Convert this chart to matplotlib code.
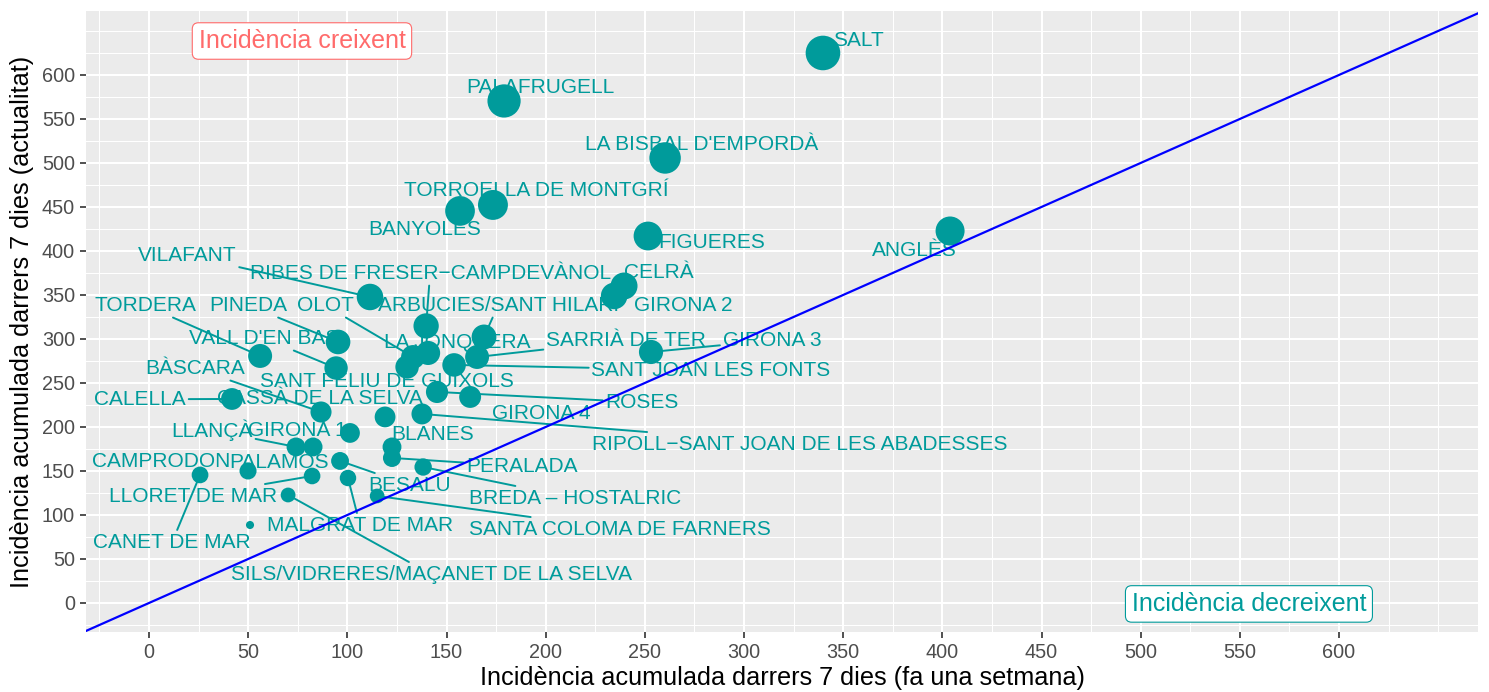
import matplotlib
matplotlib.use("Agg")
import matplotlib.pyplot as plt
import numpy as np

plt.rcParams['font.family'] = ['Liberation Sans', 'DejaVu Sans']

# Dades: incidència acumulada 7 dies (fa una setmana / actualitat)
municipis = [
    "SALT", "PALAFRUGELL", "LA BISBAL D'EMPORDÀ", "TORROELLA DE MONTGRÍ", "BANYOLES",
    "FIGUERES", "ANGLÈS", "VILAFANT", "RIBES DE FRESER−CAMPDEVÀNOL", "CELRÀ",
    "GIRONA 2", "TORDERA", "PINEDA", "OLOT", "ARBUCIES/SANT HILARI",
    "LA JONQUERA", "SARRIÀ DE TER", "GIRONA 3", "VALL D'EN BAS", "BÀSCARA",
    "SANT FELIU DE GUIXOLS", "SANT JOAN LES FONTS", "CALELLA", "CASSÀ DE LA SELVA", "ROSES",
    "GIRONA 4", "RIPOLL−SANT JOAN DE LES ABADESSES", "LLANÇÀ", "GIRONA 1", "BLANES",
    "PALAMOS", "CAMPRODON", "CANET DE MAR", "PERALADA", "BREDA – HOSTALRIC",
    "BESALU", "LLORET DE MAR", "MALGRAT DE MAR", "SANTA COLOMA DE FARNERS",
    "SILS/VIDRERES/MAÇANET DE LA SELVA", "",
]
ia_setmana = [
    339.8, 179.0, 260.2, 173.4, 156.8,
    251.6, 403.9, 111.4, 139.7, 239.5,
    234.5, 56.0, 95.3, 133.1, 168.9,
    140.7, 165.4, 253.1, 94.3, 86.7,
    130.1, 153.8, 41.8, 119.0, 145.2,
    161.9, 137.6, 74.1, 82.7, 122.5,
    49.9, 50.9, 25.7, 122.5, 138.2,
    96.3, 82.2, 100.3, 115.0,
    70.1, 101.3,
]
ia_actual = [
    625.0, 570.5, 505.7, 452.3, 445.5,
    417.0, 422.7, 347.7, 314.8, 360.2,
    348.9, 280.7, 296.6, 279.5, 302.3,
    284.1, 279.5, 285.2, 267.0, 217.0,
    268.2, 270.5, 231.8, 211.4, 239.8,
    234.1, 214.8, 177.3, 177.3, 177.3,
    150.0, 88.6, 145.5, 164.8, 154.5,
    161.4, 144.3, 142.0, 121.6,
    122.7, 193.2,
]

# posició de les etiquetes (com les col·loca ggrepel)
etiq_x = [
    357.5, 197.1, 278.8, 195.1, 139.2,
    283.9, 385.7, 19.2, 141.7, 257.1,
    269.2, -2.0, 49.9, 88.7, 176.0,
    155.3, 240.5, 314.1, 58.0, 23.2,
    120.0, 283.4, -4.5, 86.2, 248.6,
    197.7, 328.2, 31.8, 74.6, 143.2,
    65.5, 6.1, 11.6, 188.1, 214.8,
    131.6, 22.2, 106.4, 237.5,
    142.2, 0,
]
etiq_y = [
    640.9, 587.5, 522.7, 470.5, 426.1,
    411.4, 402.3, 396.6, 376.1, 377.3,
    339.8, 339.8, 339.8, 339.8, 339.8,
    297.7, 300.0, 300.0, 302.3, 268.2,
    253.4, 265.9, 233.0, 234.1, 229.5,
    217.0, 181.8, 197.7, 197.7, 193.2,
    161.4, 162.5, 70.5, 156.8, 120.5,
    135.2, 122.7, 89.8, 85.2,
    34.1, 0,
]
amb_segment = [
    False, False, False, False, False,
    False, False, True, True, False,
    False, True, True, True, True,
    False, True, True, True, True,
    False, True, True, False, True,
    False, True, True, False, False,
    False, False, True, True, True,
    True, True, True, True,
    True, False,
]

teal = '#009B9B'
vermell = '#FF6B6B'

x = np.array(ia_setmana)
y = np.array(ia_actual)

# escala de mida a la ggplot (àrea proporcional)
r = (y - y.min()) / (y.max() - y.min())
mida = 1 + 5 * np.sqrt(r)
diam_px = 5.3 * mida + 2.8
s = (diam_px * 72 / 100) ** 2

fig = plt.figure(figsize=(14.89, 6.92), dpi=100)
ax = fig.add_axes([86 / 1489, 1 - 632 / 692, (1478 - 86) / 1489, (632 - 11) / 692])
ax.set_facecolor('#EBEBEB')

ax.set_xlim(-31.8, 670.1)
ax.set_ylim(-33, 672.7)
ax.set_xticks(np.arange(0, 601, 50))
ax.set_yticks(np.arange(0, 601, 50))
ax.set_xticks(list(np.arange(-25, 626, 50)) + [650], minor=True)
ax.set_yticks(list(np.arange(-25, 626, 50)) + [650], minor=True)
ax.grid(which='major', color='white', lw=1.45)
ax.grid(which='minor', color='white', lw=0.72)
ax.set_axisbelow(True)
for sp in ax.spines.values():
    sp.set_visible(False)
ax.tick_params(which='major', length=4.5, width=1.2, color='#333333',
               labelsize=14.3, labelcolor='#4D4D4D', pad=3.5)
ax.tick_params(which='minor', length=0)

ax.scatter(x, y, s=s, color=teal, edgecolors='none', zorder=3)

for i, nom in enumerate(municipis):
    if nom == '':
        continue
    props = None
    if amb_segment[i]:
        props = dict(arrowstyle='-', color=teal, lw=1.4, shrinkA=0, shrinkB=0)
    ax.annotate(nom, xy=(x[i], y[i]), xytext=(etiq_x[i], etiq_y[i] - 1.5),
                ha='center', va='center', fontsize=15, color=teal,
                arrowprops=props, zorder=4)

ax.axline((0, 0), slope=1, color='#0000FF', lw=1.6, zorder=5)

ax.text(77.1, 638.6, 'Incidència creixent', ha='center', va='center', fontsize=18,
        color=vermell, zorder=6,
        bbox=dict(boxstyle='round,pad=0.25', fc='white', ec=vermell, lw=0.8))
ax.text(554.6, -1.1, 'Incidència decreixent', ha='center', va='center', fontsize=18,
        color=teal, zorder=6,
        bbox=dict(boxstyle='round,pad=0.25', fc='white', ec=teal, lw=0.8))

ax.set_xlabel('Incidència acumulada darrers 7 dies (fa una setmana)', fontsize=18.2,
              va='center')
ax.set_ylabel('Incidència acumulada darrers 7 dies (actualitat)', fontsize=18.2,
              va='center')
ax.xaxis.set_label_coords(0.5, (632 - 678) / 621)
ax.yaxis.set_label_coords((22 - 86) / 1392, 0.5)

fig.savefig('out.png', dpi=100)
